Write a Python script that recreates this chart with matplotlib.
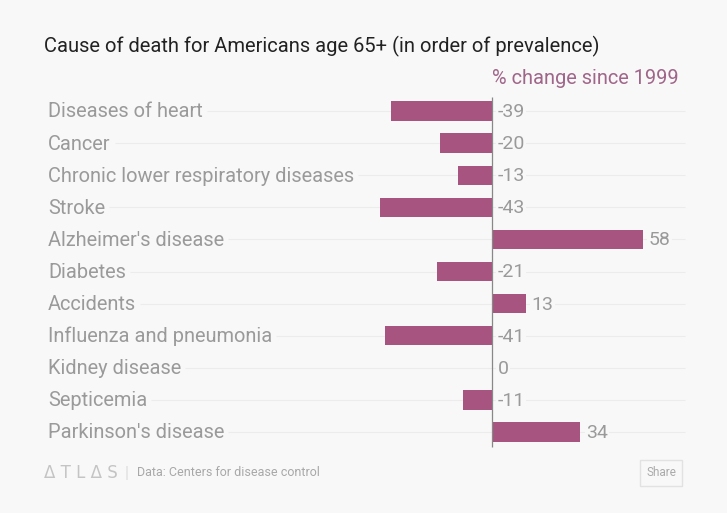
import matplotlib.pyplot as plt

causes = ["Diseases of heart", "Cancer", "Chronic lower respiratory diseases", "Stroke",
          "Alzheimer's disease", "Diabetes", "Accidents", "Influenza and pneumonia",
          "Kidney disease", "Septicemia", "Parkinson's disease"]
change = [-39, -20, -13, -43, 58, -21, 13, -41, 0, -11, 34]

bg = '#f8f8f8'
bar_color = '#a85481'
gray = '#9a9a9a'

plt.rcParams['font.family'] = ['Roboto', 'DejaVu Sans']

W, H = 727, 513
fig = plt.figure(figsize=(W / 100, H / 100), dpi=100, facecolor=bg)
ax = fig.add_axes([0, 0, 1, 1], facecolor=bg)

# pixel -> data mapping: zero at x=492px, 2.6 px per unit; rows 32.1 px apart starting at 111px
x0, sx = 492, 2.6
y0, sy = 111, 32.1
ax.set_xlim((0 - x0) / sx, (W - x0) / sx)
ax.set_ylim((H - y0) / sy, (0 - y0) / sy)
ax.axis('off')

def px(x):
    return (x - x0) / sx

rows = range(len(causes))
ax.barh(list(rows), change, height=0.6, color=bar_color, zorder=3)
ax.vlines(0, (97 - y0) / sy, (447 - y0) / sy, color='#888888', lw=0.9, zorder=4)

label_objs = []
for i, (c, v) in enumerate(zip(causes, change)):
    t = ax.text(px(48), i + 0.03, c, fontsize=14.4, color=gray, va='center', ha='left')
    label_objs.append(t)
    xv = max(v, 0) + 2.2
    ax.text(xv, i + 0.03, str(v), fontsize=14, color=gray, va='center', ha='left', zorder=5,
            bbox=dict(facecolor=bg, edgecolor='none', pad=1))

fig.canvas.draw()
r = fig.canvas.get_renderer()
inv = ax.transData.inverted()
for i, t in enumerate(label_objs):
    bb = t.get_window_extent(r)
    xs = inv.transform((bb.x1 + 4, 0))[0]
    ax.hlines(i, xs, px(685), color='#ececec', lw=0.8, zorder=1)

fig.text(44 / W, 1 - 46 / H, "Cause of death for Americans age 65+ (in order of prevalence)",
         fontsize=14.5, color='#222222', va='center', ha='left')
fig.text(492 / W, 1 - 79 / H, "% change since 1999", fontsize=14.4, color='#a0668a',
         va='center', ha='left')

fig.text(44 / W, 1 - 473 / H, "Δ T L Δ S", fontsize=12, color='#c4c4c4', va='center',
         ha='left', fontfamily='DejaVu Sans')
fig.text(125 / W, 1 - 473 / H, "|", fontsize=12, color='#dddddd', va='center', ha='left')
fig.text(137 / W, 1 - 473 / H, "Data: Centers for disease control", fontsize=9,
         color='#a8a8a8', va='center', ha='left')
fig.text(661 / W, 1 - 473 / H, "Share", fontsize=8.5, color='#aaaaaa', va='center', ha='center',
         bbox=dict(facecolor=bg, edgecolor='#e2e2e2', boxstyle='square,pad=0.55'))

fig.savefig('out.png', dpi=100, facecolor=bg)
